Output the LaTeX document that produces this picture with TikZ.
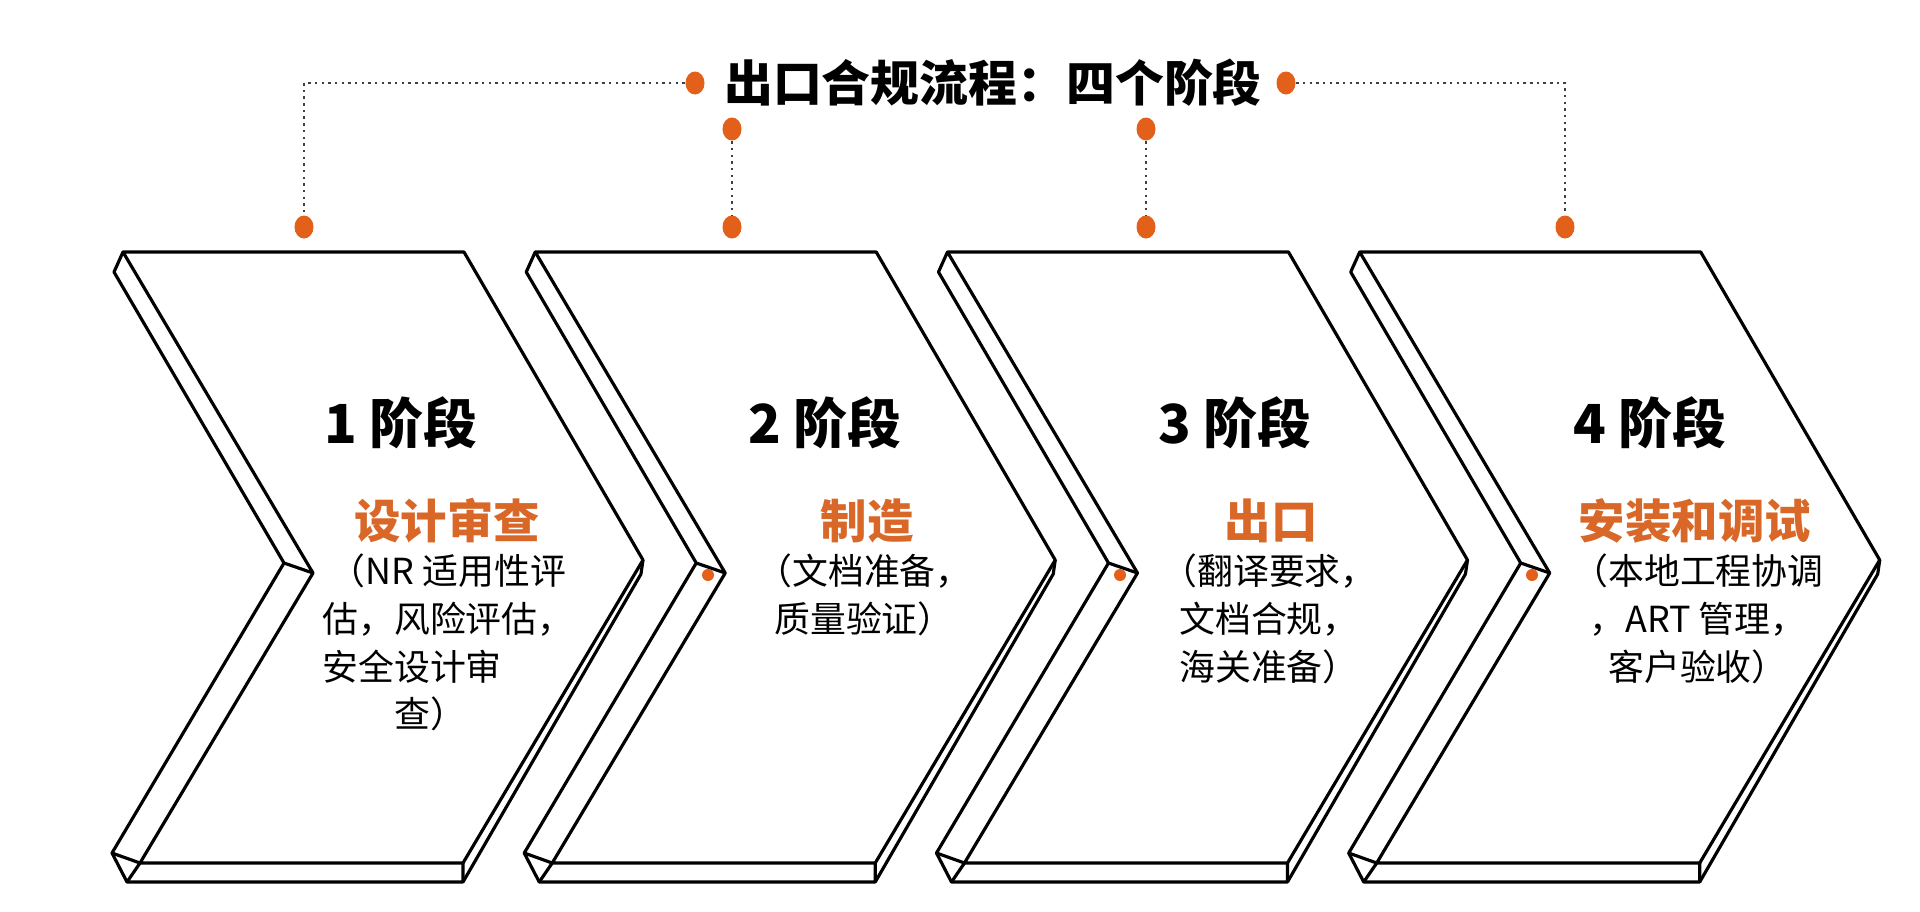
\documentclass[tikz,border=0pt]{standalone}
\usepackage{fontspec}
\setmainfont{Noto Sans CJK SC}
\usetikzlibrary{shapes.geometric}
\definecolor{accent}{RGB}{216,103,40}
\definecolor{dotorange}{RGB}{226,96,26}

\begin{document}
\begin{tikzpicture}[x=0.01cm,y=-0.01cm,
  edge/.style={line width=0.9pt,line join=round},
  dotline/.style={line width=0.7pt,dash pattern=on 0.7pt off 1.2pt,black!75},
  pin/.style={ellipse,fill=dotorange,inner sep=0pt,minimum width=0.19cm,minimum height=0.23cm},
  pinsmall/.style={circle,fill=dotorange,inner sep=0pt,minimum size=0.12cm},
  stage/.style={font=\fontsize{15.3pt}{18pt}\bfseries},
  head/.style={font=\fontsize{13.2pt}{16pt}\bfseries,text=accent},
  body/.style={font=\fontsize{10.2pt}{13.6pt}\selectfont,align=center,anchor=north,inner sep=0pt}]
\useasboundingbox (0,0) rectangle (1920,911);

\foreach \i in {0,...,3}{
\begin{scope}[xshift=\i*4.12cm]
\draw[edge] (123,252) -- (464,252) -- (643,560) -- (463,863) -- (140,863) -- (313,573) -- cycle;
\draw[edge] (123,252) -- (114,272) -- (284,563) -- (313,573);
\draw[edge] (284,563) -- (112,853) -- (140,863);
\draw[edge] (112,853) -- (127,882) -- (463,882) -- (463,863);
\draw[edge] (140,863) -- (127,882);
\draw[edge] (643,560) -- (641,574) -- (463,882);
\end{scope}
}

\node[font=\fontsize{13.9pt}{16pt}\bfseries] (title) at (993,83) {出口合规流程：四个阶段};
\node[pin] (titleL) at (695,83) {};
\node[pin] (titleR) at (1286,83) {};

\node[pin] (pin1) at (304,227) {};
\node[pin] (pin2) at (732,227) {};
\node[pin] (pin3) at (1146,227) {};
\node[pin] (pin4) at (1565,227) {};
\node[pin] (up2) at (732,129) {};
\node[pin] (up3) at (1146,129) {};

\draw[dotline] (titleL) -| (pin1);
\draw[dotline] (up2) -- (pin2);
\draw[dotline] (up3) -- (pin3);
\draw[dotline] (titleR) -| (pin4);

\node[pinsmall] (notch2) at (708,575) {};
\node[pinsmall] (notch3) at (1120,575) {};
\node[pinsmall] (notch4) at (1532,575) {};

\node[stage] (stage1) at (401,423) {1 阶段};
\node[stage] (stage2) at (825,423) {2 阶段};
\node[stage] (stage3) at (1235,423) {3 阶段};
\node[stage] (stage4) at (1650,423) {4 阶段};

\node[head] (head1) at (447,521) {设计审查};
\node[head] (head2) at (867,521) {制造};
\node[head] (head3) at (1271,521) {出口};
\node[head] (head4) at (1695,521) {安装和调试};

\node[body] (body1) at (448,553) {（NR 适用性评\\估，风险评估，\\安全设计审\hphantom{审审}\\查）\hphantom{审}};
\node[body] (body2) at (864,553) {（文档准备，\\质量验证）};
\node[body] (body3) at (1269,553) {（翻译要求，\\文档合规，\\海关准备）};
\node[body] (body4) at (1698,553) {（本地工程协调\\，ART 管理，\\客户验收）};
\end{tikzpicture}
\end{document}
